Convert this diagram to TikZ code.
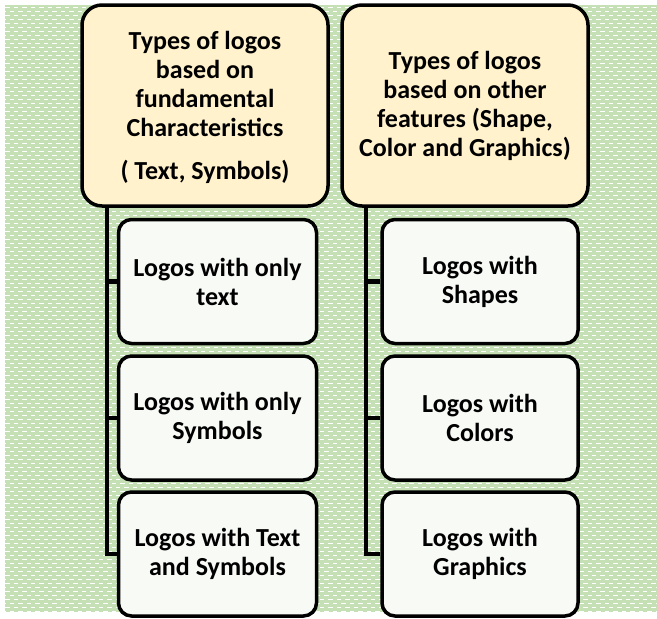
\documentclass[tikz,border=0pt]{standalone}
\usepackage{fontspec}
\setmainfont{Carlito}
\definecolor{bggreen}{HTML}{C5E0B4}
\definecolor{headfill}{HTML}{FFF2CC}
\definecolor{itemfill}{HTML}{F8FAF6}
\tikzset{
  headbox/.style={draw=black, line width=3.5pt, fill=headfill, rounded corners=20pt,
    minimum width=246pt, minimum height=201pt, inner sep=0pt},
  itembox/.style={draw=black, line width=3.5pt, fill=itemfill, rounded corners=13pt,
    minimum width=198pt, minimum height=124pt, inner sep=0pt},
  boxtext/.style={align=center, font=\fontsize{26}{29}\selectfont\bfseries, inner sep=0pt},
  trunk/.style={draw=black, line width=4.5pt},
}
\begin{document}
\begin{tikzpicture}[x=1pt, y=-1pt]
\useasboundingbox (0,0) rectangle (657,619);
% patterned backdrop
\fill[bggreen] (5,5) rectangle (657,612);
\foreach \i in {0,...,151}{
  \pgfmathsetmacro\yy{7+4*\i}
  \pgfmathsetmacro\ph{mod(\i,2)*4}
  \draw[white, line width=1pt, dash pattern=on 4.5pt off 4pt, dash phase=\ph pt] (5,\yy) -- (657,\yy);
}
% trunk positions
\coordinate (tl) at (107,0);
\coordinate (tr) at (366,0);
% headings
\node[headbox] (hl) at (205,105.5) {};
\node[headbox] (hr) at (465,105.5) {};
\node[boxtext] (hlt) at (205,107) {Types of logos\\based on\\fundamental\\Characteristics\\[14pt]( Text, Symbols)};
\node[boxtext] (hrt) at (465,106) {Types of logos\\based on other\\features (Shape,\\Color and Graphics)};
% left column items
\node[itembox] (l1) at (217.5,281.5) {};
\node[itembox] (l2) at (217.5,418) {};
\node[itembox] (l3) at (217.5,554) {};
\node[boxtext] (l1t) at (l1) {Logos with only\\text};
\node[boxtext] (l2t) at (l2) {Logos with only\\Symbols};
\node[boxtext] (l3t) at (l3) {Logos with Text\\and Symbols};
% right column items
\node[itembox, minimum width=196pt] (r1) at (480,281.5) {};
\node[itembox, minimum width=196pt] (r2) at (480,418) {};
\node[itembox, minimum width=196pt] (r3) at (480,554) {};
\node[boxtext] (r1t) at (r1) {Logos with\\Shapes};
\node[boxtext] (r2t) at (r2) {Logos with\\Colors};
\node[boxtext] (r3t) at (r3) {Logos with\\Graphics};
% connectors
\draw[trunk] (hl.south -| tl) |- (l3.west);
\draw[trunk] (l1.west -| tl) -- (l1.west);
\draw[trunk] (l2.west -| tl) -- (l2.west);
\draw[trunk] (hr.south -| tr) |- (r3.west);
\draw[trunk] (r1.west -| tr) -- (r1.west);
\draw[trunk] (r2.west -| tr) -- (r2.west);
\end{tikzpicture}
\end{document}
